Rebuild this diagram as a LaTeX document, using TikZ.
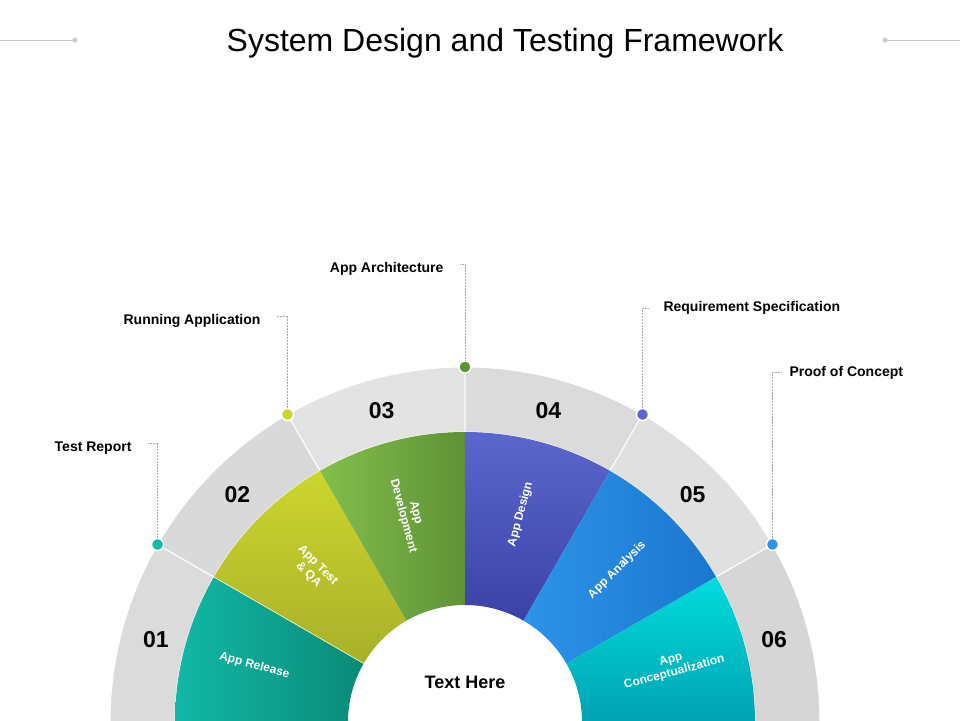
\documentclass[tikz,border=0pt]{standalone}
\usepackage{fontspec}
\setmainfont{Liberation Sans}
\usetikzlibrary{positioning,calc}
\definecolor{relA}{HTML}{12B8A6}\definecolor{relB}{HTML}{0A8A78}
\definecolor{tstA}{HTML}{CDD62E}\definecolor{tstB}{HTML}{A8B02A}
\definecolor{devA}{HTML}{84BE4C}\definecolor{devB}{HTML}{5E9236}
\definecolor{dsgA}{HTML}{5C66CC}\definecolor{dsgB}{HTML}{3A42A6}
\definecolor{anaA}{HTML}{2C94E8}\definecolor{anaB}{HTML}{1C76CE}
\definecolor{conA}{HTML}{00DCDC}\definecolor{conB}{HTML}{00A2B2}
\tikzset{%
      ringpart/.style={draw=white, line width=1pt},
      segtext/.style={text=white, font=\bfseries\fontsize{12}{13}\selectfont, align=center, inner sep=1pt},
      number/.style={font=\bfseries\fontsize{23}{24}\selectfont},
      callout/.style={font=\bfseries\fontsize{14}{16}\selectfont},
      leader/.style={draw, gray!70, line width=0.5pt, densely dotted},
      dot/.style={circle, draw=white, line width=1.5pt, minimum size=12pt, inner sep=0pt},
      deco/.style={draw, gray!40, line width=0.6pt},
    }
\newcommand{\sector}[4]{%
      (#1:#3) arc[start angle=#1, end angle=#2, radius=#3] -- (#2:#4) arc[start angle=#2, end angle=#1, radius=#4] -- cycle}

\begin{document}
\begin{tikzpicture}[x=1pt, y=1pt]
      \useasboundingbox (0,0) rectangle (960,720);

      % Title and ornaments
      \node (title) at (505,677) {\fontsize{32}{35}\selectfont System Design and Testing Framework};
      \path [deco] (0,680) -- (75,680);
      \path [deco] (885,680) -- (960,680);
      \fill [gray!40] (75,680) circle (2.5);
      \fill [gray!40] (885,680) circle (2.5);

      \begin{scope}[shift={(465,-2)}]
        % Outer gray ring
        \path [ringpart, fill=black!14] \sector{150}{180}{290}{355};
        \path [ringpart, fill=black!15] \sector{120}{150}{290}{355};
        \path [ringpart, fill=black!11] \sector{90}{120}{290}{355};
        \path [ringpart, fill=black!14] \sector{60}{90}{290}{355};
        \path [ringpart, fill=black!12] \sector{30}{60}{290}{355};
        \path [ringpart, fill=black!16] \sector{0}{30}{290}{355};

        % Coloured segments
        \path [left color=relA, right color=relB] \sector{150}{180}{117}{290};
        \path [top color=tstA, bottom color=tstB] \sector{120}{150}{117}{290};
        \path [left color=devA, right color=devB] \sector{90}{120}{117}{290};
        \path [top color=dsgA, bottom color=dsgB] \sector{60}{90}{117}{290};
        \path [left color=anaA, right color=anaB] \sector{30}{60}{117}{290};
        \path [top color=conA, bottom color=conB] \sector{0}{30}{117}{290};
        \draw [white!80!yellow, line width=0.6pt] (150:117) -- (150:290);

        % Segment texts
        \node (s1) [segtext, rotate=-15] at (165:218) {App Release};
        \node (s2) [segtext, rotate=-45] at (135:215) {App Test\\\& QA};
        \node (s3) [segtext, rotate=-75] at (105:215) {App\\Development};
        \node (s4) [segtext, rotate=75] at (75:215) {App Design};
        \node (s5) [segtext, rotate=45] at (45:215) {App Analysis};
        \node (s6) [segtext, rotate=15] at (15:215) {App\\Conceptualization};

        % Numbers
        \node (n1) [number] at (165:320) {01};
        \node (n2) [number] at (135:322) {02};
        \node (n3) [number] at (105:322) {03};
        \node (n4) [number] at (75:322) {04};
        \node (n5) [number] at (45:322) {05};
        \node (n6) [number] at (15:320) {06};

        % Dots
        \node (d1) [dot, fill=relA] at (150:355) {};
        \node (d2) [dot, fill=tstA] at (120:355) {};
        \node (d3) [dot, fill=devB] at (90:355) {};
        \node (d4) [dot, fill=dsgA] at (60:355) {};
        \node (d5) [dot, fill=anaA] at (30:355) {};
      \end{scope}

      \node (centre) [font=\bfseries\fontsize{18}{19}\selectfont] at (465,38) {Text Here};

      % Callouts
      \coordinate (t1) at (155,277);
      \coordinate (t2) at (284,404);
      \coordinate (t3) at (467,456);
      \coordinate (t4) at (642,412);
      \coordinate (t5) at (774,348);
      \node (c1) [callout, left=20pt of t1, yshift=-5pt] {Test Report};
      \node (c2) [callout, left=20pt of t2, yshift=-5pt] {Running Application};
      \node (c3) [callout, left=20pt of t3, yshift=-5pt] {App Architecture};
      \node (c4) [callout, right=18pt of t4] {Requirement Specification};
      \node (c5) [callout, right=12pt of t5, yshift=-1pt] {Proof of Concept};
      \path [leader] (d1) |- ([xshift=-7pt]t1);
      \path [leader] (d2) |- ([xshift=-7pt]t2);
      \path [leader] (d3) |- ([xshift=-7pt]t3);
      \path [leader] (d4) |- ([xshift=7pt]t4);
      \path [leader] (d5) |- ([xshift=7pt]t5);
\end{tikzpicture}
\end{document}
